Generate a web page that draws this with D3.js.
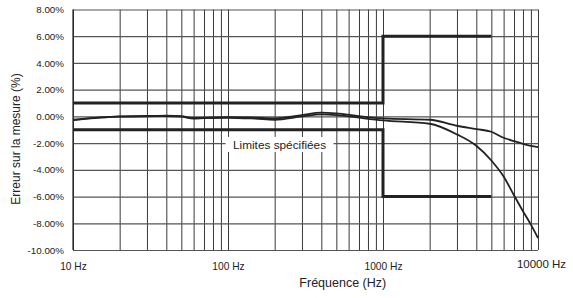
<!DOCTYPE html>
<html>
<head>
<meta charset="utf-8">
<script src="https://cdn.jsdelivr.net/npm/d3@7"></script>
<style>
    body { margin: 0; background: #fff; }
    text { font-family: "Liberation Sans", Arial, sans-serif; fill: #222; }
</style>
</head>
<body>
<div id="chart"></div>
<script>
// measured frequencies (Hz)
const freqs = [10, 20, 30, 40, 50, 60, 70, 100, 150, 200, 300, 400, 500, 700, 1000,
               2000, 3000, 4000, 5000, 6000, 7000, 8000, 9000, 10000];
// error curves (%)
const curveA = [-0.25, 0.0, 0.03, 0.06, 0.02, -0.12, -0.1, -0.05, -0.1, -0.15, 0.1, 0.28, 0.22, 0.02, -0.15,
                -0.25, -0.7, -0.95, -1.15, -1.6, -1.85, -2.05, -2.2, -2.3];
const curveB = [-0.28, -0.02, 0.0, 0.03, -0.02, -0.16, -0.13, -0.1, -0.17, -0.25, 0.0, 0.15, 0.1, -0.1, -0.3,
                -0.55, -1.35, -2.2, -3.3, -4.5, -5.9, -7.1, -8.1, -9.1];

// specified limits
const limitFreq = [10, 1000, 1000, 5000];
const limitUpper = [1, 1, 6, 6];
const limitLower = [-1, -1, -6, -6];

// axes
const yTicks = [8, 6, 4, 2, 0, -2, -4, -6, -8, -10];
const xLabelTicks = [10, 100, 1000, 10000];
const xGridTicks = [];
[10, 100, 1000].forEach(dec => {
    for (let i = 1; i <= 10; i++) xGridTicks.push(dec * i);
});

let margin = { top: 9.5, right: 35, bottom: 48, left: 73 };
let width = 573 - margin.left - margin.right;
let height = 298 - margin.top - margin.bottom;

let svg = d3.select("#chart").append("svg")
    .attr("width", 573)
    .attr("height", 298)
    .append("g")
    .attr("transform", `translate(${margin.left},${margin.top})`);

let x = d3.scaleLog().domain([10, 10000]).range([0, width]);
let y = d3.scaleLinear().domain([-10, 8]).range([height, 0]);

// vertical grid
svg.append("g")
    .attr("class", "x-grid")
    .attr("transform", `translate(0,${height})`)
    .call(d3.axisBottom(x).tickValues(xGridTicks).tickSize(-height).tickFormat(""))
    .call(g => g.select(".domain").remove())
    .call(g => g.selectAll("line").attr("stroke", "#3a3a3a").attr("stroke-width", 1));

// horizontal grid
svg.append("g")
    .attr("class", "y-grid")
    .call(d3.axisLeft(y).tickValues(yTicks).tickSize(-width).tickFormat(""))
    .call(g => g.select(".domain").remove())
    .call(g => g.selectAll("line").attr("stroke", "#555").attr("stroke-width", 1.2));

// left border
svg.append("line")
    .attr("x1", 0).attr("x2", 0)
    .attr("y1", 0).attr("y2", height)
    .attr("stroke", "#222").attr("stroke-width", 1.2);

// y labels
svg.append("g")
    .call(d3.axisLeft(y).tickValues(yTicks).tickSize(0).tickPadding(9)
        .tickFormat(d => d.toFixed(2) + "%"))
    .call(g => g.select(".domain").remove())
    .call(g => g.selectAll("text").style("font-size", "9.8px").style("fill", "#222"));

// x labels
svg.append("g")
    .attr("transform", `translate(0,${height})`)
    .call(d3.axisBottom(x).tickValues(xLabelTicks).tickSize(0).tickPadding(13.5)
        .tickFormat(d => d + " Hz"))
    .call(g => g.select(".domain").remove())
    .call(g => g.selectAll("text")
        .style("font-size", d => d === 10000 ? "11.5px" : "10.2px")
        .style("fill", "#222")
        .attr("dx", d => d === 10000 ? 3 : 0)
        .attr("y", d => d === 10000 ? 10 : 13));

// limit lines
let line = d3.line()
    .x(d => x(d[0]))
    .y(d => y(d[1]));

[limitUpper, limitLower].forEach(lim => {
    svg.append("path")
        .datum(limitFreq.map((f, i) => [f, lim[i]]))
        .attr("d", line)
        .attr("fill", "none")
        .attr("stroke", "#222")
        .attr("stroke-width", 3);
});

// measured curves
let curveLine = d3.line()
    .x(d => x(d[0]))
    .y(d => y(d[1]))
    .curve(d3.curveMonotoneX);

[curveA, curveB].forEach(c => {
    svg.append("path")
        .datum(freqs.map((f, i) => [f, c[i]]))
        .attr("d", curveLine)
        .attr("fill", "none")
        .attr("stroke", "#222")
        .attr("stroke-width", 1.8);
});

// limits label
let lbl = svg.append("g").attr("transform", `translate(${x(215)},${y(-2.1)})`);
lbl.append("rect")
    .attr("x", -54).attr("y", -7.5)
    .attr("width", 108).attr("height", 15)
    .attr("fill", "#fff");
lbl.append("text")
    .attr("text-anchor", "middle")
    .attr("dy", "0.36em")
    .style("font-size", "11.8px")
    .text("Limites spécifiées");

// axis titles
svg.append("text")
    .attr("x", x(550))
    .attr("y", height + 32.5)
    .attr("dy", "0.36em")
    .attr("text-anchor", "middle")
    .style("font-size", "12.5px")
    .text("Fréquence (Hz)");

svg.append("text")
    .attr("transform", `translate(${16 - margin.left},${139 - margin.top}) rotate(-90)`)
    .attr("dy", "0.36em")
    .attr("text-anchor", "middle")
    .style("font-size", "12px")
    .text("Erreur sur la mesure (%)");
</script>
</body>
</html>
